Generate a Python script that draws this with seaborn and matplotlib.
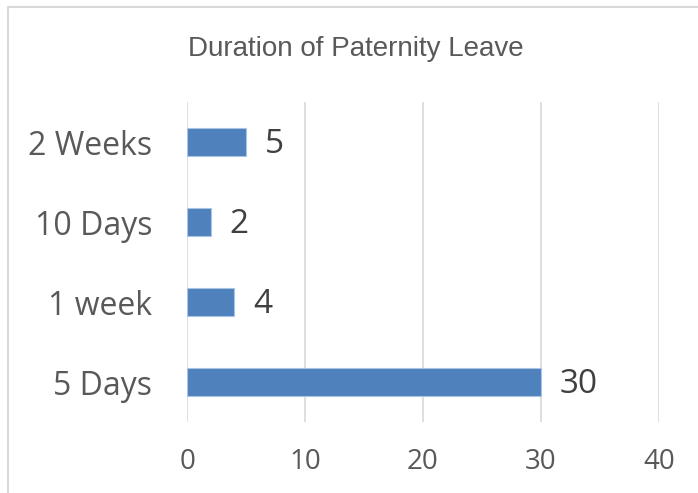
import matplotlib
matplotlib.use("Agg")
import matplotlib.pyplot as plt
from matplotlib.lines import Line2D
import seaborn as sns
import pandas as pd

# values
categories = ["2 Weeks", "10 Days", "1 week", "5 Days"]
counts = [5, 2, 4, 30]
x_ticks = [0, 10, 20, 30, 40]
title = "Duration of Paternity Leave"

df = pd.DataFrame({"duration": categories, "count": counts})

sns.set_theme(style="white")
plt.rcParams['font.family'] = ['Open Sans', 'DejaVu Sans']

fig = plt.figure(figsize=(6.98, 4.93), dpi=100)
ax = fig.add_axes([0.268, 0.144, 0.676, 0.649])

sns.barplot(data=df, x="count", y="duration", order=categories, orient="h",
            color="#4F81BD", saturation=1, edgecolor="#A9C4E4", linewidth=0.8,
            width=0.35, ax=ax)

ax.set_xlim(0, 40)
ax.set_xticks(x_ticks)
ax.grid(axis="x", color="#D9D9D9", linewidth=1.2)
ax.set_axisbelow(True)
for s in ax.spines.values():
    s.set_visible(False)
ax.tick_params(axis="x", labelsize=20, colors="#595959", length=0, pad=19)
ax.tick_params(axis="y", labelsize=23, colors="#595959", length=0, pad=25)
ax.set_xlabel("")
ax.set_ylabel("")

for i, v in enumerate(counts):
    ax.text(v + 1.6, i + 0.03, str(v), va="center", ha="left", fontsize=24, color="#404040")

fig.text(0.51, 0.90, title, ha="center", va="center",
         fontsize=20, color="#595959", family=["Liberation Sans", "DejaVu Sans"])

# chart border (left and top edges visible in the crop)
fig.add_artist(Line2D([0.011, 0.011], [0, 0.986], transform=fig.transFigure,
                      color="#D9D9D9", linewidth=1.5))
fig.add_artist(Line2D([0.011, 1], [0.986, 0.986], transform=fig.transFigure,
                      color="#D9D9D9", linewidth=1.5))

fig.savefig("out.png", dpi=100)
